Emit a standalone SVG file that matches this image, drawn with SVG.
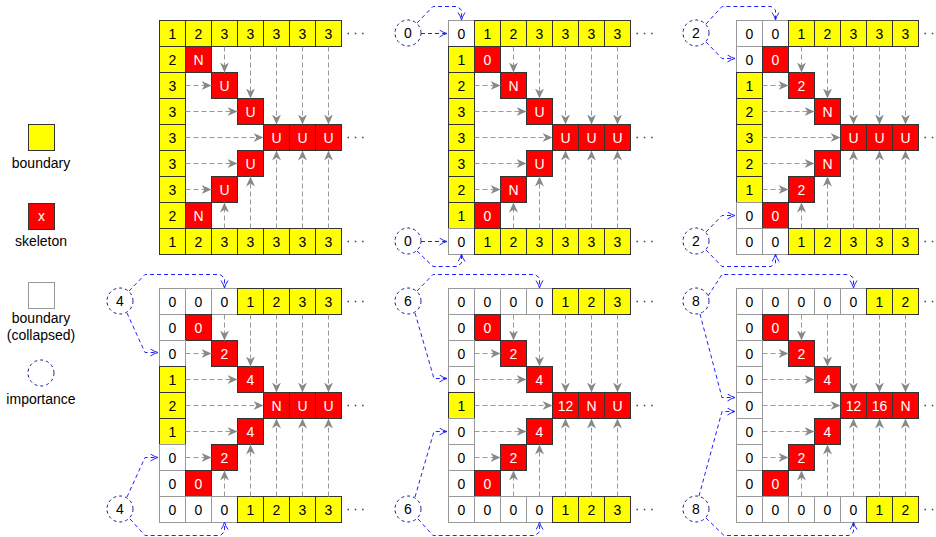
<svg xmlns="http://www.w3.org/2000/svg" width="936" height="537" viewBox="0 0 936 537">
<style>
text{font-family:"Liberation Sans",Arial,sans-serif;font-size:14px;text-anchor:middle;fill:#000}
.y{fill:#ffff00;stroke:#333;stroke-width:1}
.r{fill:#ff0000;stroke:#333;stroke-width:1}
.w{fill:#fff;stroke:#999;stroke-width:1}
.tw{fill:#fff}
.g path{fill:none;stroke:#999;stroke-width:1;stroke-dasharray:5 3;marker-end:url(#ga)}
.b{fill:none;stroke:#2222ff;stroke-width:1;stroke-dasharray:4 3;marker-end:url(#ba)}
.c{fill:#fff;stroke:#1a1a99;stroke-width:1;stroke-dasharray:3 3}
.d{fill:none;stroke:#444;stroke-width:1.5;stroke-dasharray:1.5 5.8}
</style>
<defs>
<marker id="ga" markerUnits="userSpaceOnUse" markerWidth="12" markerHeight="12" refX="10" refY="4.5" orient="auto"><path d="M0,0 L10,4.5 L0,9 L3,4.5 z" fill="#888"/></marker>
<marker id="ba" markerUnits="userSpaceOnUse" markerWidth="10" markerHeight="10" refX="8" refY="4" orient="auto"><path d="M0.5,0.5 Q4,3 8,4 Q4,5 0.5,7.5" fill="none" stroke="#2222ff" stroke-width="1"/></marker>
</defs>

<g id="legend">
<g id="leg-boundary"><rect class="y" x="28.5" y="124.5" width="26" height="26"/><text x="41" y="168">boundary</text></g>
<g id="leg-skeleton"><rect class="r" x="28.5" y="203.5" width="26" height="26"/><text class="tw" x="41.5" y="221">x</text><text x="41" y="246">skeleton</text></g>
<g id="leg-collapsed"><rect class="w" x="28.5" y="282.5" width="26" height="26"/><text x="41" y="323">boundary</text><text x="41" y="340">(collapsed)</text></g>
<g id="leg-importance"><circle class="c" cx="41" cy="373" r="13"/><text x="41" y="404">importance</text></g>
</g>

<!-- Panel 1 -->
<g id="panel1" transform="translate(159.5,20.5)">
<g id="p1-r0c0"><rect class="y" width="26" height="26"/><text x="13" y="18">1</text></g>
<g id="p1-r0c1" transform="translate(26,0)"><rect class="y" width="26" height="26"/><text x="13" y="18">2</text></g>
<g id="p1-r0c2" transform="translate(52,0)"><rect class="y" width="26" height="26"/><text x="13" y="18">3</text></g>
<g id="p1-r0c3" transform="translate(78,0)"><rect class="y" width="26" height="26"/><text x="13" y="18">3</text></g>
<g id="p1-r0c4" transform="translate(104,0)"><rect class="y" width="26" height="26"/><text x="13" y="18">3</text></g>
<g id="p1-r0c5" transform="translate(130,0)"><rect class="y" width="26" height="26"/><text x="13" y="18">3</text></g>
<g id="p1-r0c6" transform="translate(156,0)"><rect class="y" width="26" height="26"/><text x="13" y="18">3</text></g>
<g id="p1-r1c0" transform="translate(0,26)"><rect class="y" width="26" height="26"/><text x="13" y="18">2</text></g>
<g id="p1-r1c1" transform="translate(26,26)"><rect class="r" width="26" height="26"/><text class="tw" x="13" y="18">N</text></g>
<g id="p1-r2c0" transform="translate(0,52)"><rect class="y" width="26" height="26"/><text x="13" y="18">3</text></g>
<g id="p1-r2c2" transform="translate(52,52)"><rect class="r" width="26" height="26"/><text class="tw" x="13" y="18">U</text></g>
<g id="p1-r3c0" transform="translate(0,78)"><rect class="y" width="26" height="26"/><text x="13" y="18">3</text></g>
<g id="p1-r3c3" transform="translate(78,78)"><rect class="r" width="26" height="26"/><text class="tw" x="13" y="18">U</text></g>
<g id="p1-r4c0" transform="translate(0,104)"><rect class="y" width="26" height="26"/><text x="13" y="18">3</text></g>
<g id="p1-r4c4" transform="translate(104,104)"><rect class="r" width="26" height="26"/><text class="tw" x="13" y="18">U</text></g>
<g id="p1-r4c5" transform="translate(130,104)"><rect class="r" width="26" height="26"/><text class="tw" x="13" y="18">U</text></g>
<g id="p1-r4c6" transform="translate(156,104)"><rect class="r" width="26" height="26"/><text class="tw" x="13" y="18">U</text></g>
<g id="p1-r5c0" transform="translate(0,130)"><rect class="y" width="26" height="26"/><text x="13" y="18">3</text></g>
<g id="p1-r5c3" transform="translate(78,130)"><rect class="r" width="26" height="26"/><text class="tw" x="13" y="18">U</text></g>
<g id="p1-r6c0" transform="translate(0,156)"><rect class="y" width="26" height="26"/><text x="13" y="18">3</text></g>
<g id="p1-r6c2" transform="translate(52,156)"><rect class="r" width="26" height="26"/><text class="tw" x="13" y="18">U</text></g>
<g id="p1-r7c0" transform="translate(0,182)"><rect class="y" width="26" height="26"/><text x="13" y="18">2</text></g>
<g id="p1-r7c1" transform="translate(26,182)"><rect class="r" width="26" height="26"/><text class="tw" x="13" y="18">N</text></g>
<g id="p1-r8c0" transform="translate(0,208)"><rect class="y" width="26" height="26"/><text x="13" y="18">1</text></g>
<g id="p1-r8c1" transform="translate(26,208)"><rect class="y" width="26" height="26"/><text x="13" y="18">2</text></g>
<g id="p1-r8c2" transform="translate(52,208)"><rect class="y" width="26" height="26"/><text x="13" y="18">3</text></g>
<g id="p1-r8c3" transform="translate(78,208)"><rect class="y" width="26" height="26"/><text x="13" y="18">3</text></g>
<g id="p1-r8c4" transform="translate(104,208)"><rect class="y" width="26" height="26"/><text x="13" y="18">3</text></g>
<g id="p1-r8c5" transform="translate(130,208)"><rect class="y" width="26" height="26"/><text x="13" y="18">3</text></g>
<g id="p1-r8c6" transform="translate(156,208)"><rect class="y" width="26" height="26"/><text x="13" y="18">3</text></g>
<path class="d" d="M188,13H208M188,117H208M188,221H208"/>
</g>

<!-- Panel 2 -->
<g id="panel2" transform="translate(448.5,20.5)">
<g id="p2-r0c0"><rect class="w" width="26" height="26"/><text x="13" y="18">0</text></g>
<g id="p2-r0c1" transform="translate(26,0)"><rect class="y" width="26" height="26"/><text x="13" y="18">1</text></g>
<g id="p2-r0c2" transform="translate(52,0)"><rect class="y" width="26" height="26"/><text x="13" y="18">2</text></g>
<g id="p2-r0c3" transform="translate(78,0)"><rect class="y" width="26" height="26"/><text x="13" y="18">3</text></g>
<g id="p2-r0c4" transform="translate(104,0)"><rect class="y" width="26" height="26"/><text x="13" y="18">3</text></g>
<g id="p2-r0c5" transform="translate(130,0)"><rect class="y" width="26" height="26"/><text x="13" y="18">3</text></g>
<g id="p2-r0c6" transform="translate(156,0)"><rect class="y" width="26" height="26"/><text x="13" y="18">3</text></g>
<g id="p2-r1c0" transform="translate(0,26)"><rect class="y" width="26" height="26"/><text x="13" y="18">1</text></g>
<g id="p2-r1c1" transform="translate(26,26)"><rect class="r" width="26" height="26"/><text class="tw" x="13" y="18">0</text></g>
<g id="p2-r2c0" transform="translate(0,52)"><rect class="y" width="26" height="26"/><text x="13" y="18">2</text></g>
<g id="p2-r2c2" transform="translate(52,52)"><rect class="r" width="26" height="26"/><text class="tw" x="13" y="18">N</text></g>
<g id="p2-r3c0" transform="translate(0,78)"><rect class="y" width="26" height="26"/><text x="13" y="18">3</text></g>
<g id="p2-r3c3" transform="translate(78,78)"><rect class="r" width="26" height="26"/><text class="tw" x="13" y="18">U</text></g>
<g id="p2-r4c0" transform="translate(0,104)"><rect class="y" width="26" height="26"/><text x="13" y="18">3</text></g>
<g id="p2-r4c4" transform="translate(104,104)"><rect class="r" width="26" height="26"/><text class="tw" x="13" y="18">U</text></g>
<g id="p2-r4c5" transform="translate(130,104)"><rect class="r" width="26" height="26"/><text class="tw" x="13" y="18">U</text></g>
<g id="p2-r4c6" transform="translate(156,104)"><rect class="r" width="26" height="26"/><text class="tw" x="13" y="18">U</text></g>
<g id="p2-r5c0" transform="translate(0,130)"><rect class="y" width="26" height="26"/><text x="13" y="18">3</text></g>
<g id="p2-r5c3" transform="translate(78,130)"><rect class="r" width="26" height="26"/><text class="tw" x="13" y="18">U</text></g>
<g id="p2-r6c0" transform="translate(0,156)"><rect class="y" width="26" height="26"/><text x="13" y="18">2</text></g>
<g id="p2-r6c2" transform="translate(52,156)"><rect class="r" width="26" height="26"/><text class="tw" x="13" y="18">N</text></g>
<g id="p2-r7c0" transform="translate(0,182)"><rect class="y" width="26" height="26"/><text x="13" y="18">1</text></g>
<g id="p2-r7c1" transform="translate(26,182)"><rect class="r" width="26" height="26"/><text class="tw" x="13" y="18">0</text></g>
<g id="p2-r8c0" transform="translate(0,208)"><rect class="w" width="26" height="26"/><text x="13" y="18">0</text></g>
<g id="p2-r8c1" transform="translate(26,208)"><rect class="y" width="26" height="26"/><text x="13" y="18">1</text></g>
<g id="p2-r8c2" transform="translate(52,208)"><rect class="y" width="26" height="26"/><text x="13" y="18">2</text></g>
<g id="p2-r8c3" transform="translate(78,208)"><rect class="y" width="26" height="26"/><text x="13" y="18">3</text></g>
<g id="p2-r8c4" transform="translate(104,208)"><rect class="y" width="26" height="26"/><text x="13" y="18">3</text></g>
<g id="p2-r8c5" transform="translate(130,208)"><rect class="y" width="26" height="26"/><text x="13" y="18">3</text></g>
<g id="p2-r8c6" transform="translate(156,208)"><rect class="y" width="26" height="26"/><text x="13" y="18">3</text></g>
<path class="d" d="M188,13H208M188,117H208M188,221H208"/>
</g>

<!-- Panel 3 -->
<g id="panel3" transform="translate(736.5,20.5)">
<g id="p3-r0c0"><rect class="w" width="26" height="26"/><text x="13" y="18">0</text></g>
<g id="p3-r0c1" transform="translate(26,0)"><rect class="w" width="26" height="26"/><text x="13" y="18">0</text></g>
<g id="p3-r0c2" transform="translate(52,0)"><rect class="y" width="26" height="26"/><text x="13" y="18">1</text></g>
<g id="p3-r0c3" transform="translate(78,0)"><rect class="y" width="26" height="26"/><text x="13" y="18">2</text></g>
<g id="p3-r0c4" transform="translate(104,0)"><rect class="y" width="26" height="26"/><text x="13" y="18">3</text></g>
<g id="p3-r0c5" transform="translate(130,0)"><rect class="y" width="26" height="26"/><text x="13" y="18">3</text></g>
<g id="p3-r0c6" transform="translate(156,0)"><rect class="y" width="26" height="26"/><text x="13" y="18">3</text></g>
<g id="p3-r1c0" transform="translate(0,26)"><rect class="w" width="26" height="26"/><text x="13" y="18">0</text></g>
<g id="p3-r1c1" transform="translate(26,26)"><rect class="r" width="26" height="26"/><text class="tw" x="13" y="18">0</text></g>
<g id="p3-r2c0" transform="translate(0,52)"><rect class="y" width="26" height="26"/><text x="13" y="18">1</text></g>
<g id="p3-r2c2" transform="translate(52,52)"><rect class="r" width="26" height="26"/><text class="tw" x="13" y="18">2</text></g>
<g id="p3-r3c0" transform="translate(0,78)"><rect class="y" width="26" height="26"/><text x="13" y="18">2</text></g>
<g id="p3-r3c3" transform="translate(78,78)"><rect class="r" width="26" height="26"/><text class="tw" x="13" y="18">N</text></g>
<g id="p3-r4c0" transform="translate(0,104)"><rect class="y" width="26" height="26"/><text x="13" y="18">3</text></g>
<g id="p3-r4c4" transform="translate(104,104)"><rect class="r" width="26" height="26"/><text class="tw" x="13" y="18">U</text></g>
<g id="p3-r4c5" transform="translate(130,104)"><rect class="r" width="26" height="26"/><text class="tw" x="13" y="18">U</text></g>
<g id="p3-r4c6" transform="translate(156,104)"><rect class="r" width="26" height="26"/><text class="tw" x="13" y="18">U</text></g>
<g id="p3-r5c0" transform="translate(0,130)"><rect class="y" width="26" height="26"/><text x="13" y="18">2</text></g>
<g id="p3-r5c3" transform="translate(78,130)"><rect class="r" width="26" height="26"/><text class="tw" x="13" y="18">N</text></g>
<g id="p3-r6c0" transform="translate(0,156)"><rect class="y" width="26" height="26"/><text x="13" y="18">1</text></g>
<g id="p3-r6c2" transform="translate(52,156)"><rect class="r" width="26" height="26"/><text class="tw" x="13" y="18">2</text></g>
<g id="p3-r7c0" transform="translate(0,182)"><rect class="w" width="26" height="26"/><text x="13" y="18">0</text></g>
<g id="p3-r7c1" transform="translate(26,182)"><rect class="r" width="26" height="26"/><text class="tw" x="13" y="18">0</text></g>
<g id="p3-r8c0" transform="translate(0,208)"><rect class="w" width="26" height="26"/><text x="13" y="18">0</text></g>
<g id="p3-r8c1" transform="translate(26,208)"><rect class="w" width="26" height="26"/><text x="13" y="18">0</text></g>
<g id="p3-r8c2" transform="translate(52,208)"><rect class="y" width="26" height="26"/><text x="13" y="18">1</text></g>
<g id="p3-r8c3" transform="translate(78,208)"><rect class="y" width="26" height="26"/><text x="13" y="18">2</text></g>
<g id="p3-r8c4" transform="translate(104,208)"><rect class="y" width="26" height="26"/><text x="13" y="18">3</text></g>
<g id="p3-r8c5" transform="translate(130,208)"><rect class="y" width="26" height="26"/><text x="13" y="18">3</text></g>
<g id="p3-r8c6" transform="translate(156,208)"><rect class="y" width="26" height="26"/><text x="13" y="18">3</text></g>
<path class="d" d="M188,13H208M188,117H208M188,221H208"/>
</g>

<!-- Panel 4 -->
<g id="panel4" transform="translate(159.5,288.5)">
<g id="p4-r0c0"><rect class="w" width="26" height="26"/><text x="13" y="18">0</text></g>
<g id="p4-r0c1" transform="translate(26,0)"><rect class="w" width="26" height="26"/><text x="13" y="18">0</text></g>
<g id="p4-r0c2" transform="translate(52,0)"><rect class="w" width="26" height="26"/><text x="13" y="18">0</text></g>
<g id="p4-r0c3" transform="translate(78,0)"><rect class="y" width="26" height="26"/><text x="13" y="18">1</text></g>
<g id="p4-r0c4" transform="translate(104,0)"><rect class="y" width="26" height="26"/><text x="13" y="18">2</text></g>
<g id="p4-r0c5" transform="translate(130,0)"><rect class="y" width="26" height="26"/><text x="13" y="18">3</text></g>
<g id="p4-r0c6" transform="translate(156,0)"><rect class="y" width="26" height="26"/><text x="13" y="18">3</text></g>
<g id="p4-r1c0" transform="translate(0,26)"><rect class="w" width="26" height="26"/><text x="13" y="18">0</text></g>
<g id="p4-r1c1" transform="translate(26,26)"><rect class="r" width="26" height="26"/><text class="tw" x="13" y="18">0</text></g>
<g id="p4-r2c0" transform="translate(0,52)"><rect class="w" width="26" height="26"/><text x="13" y="18">0</text></g>
<g id="p4-r2c2" transform="translate(52,52)"><rect class="r" width="26" height="26"/><text class="tw" x="13" y="18">2</text></g>
<g id="p4-r3c0" transform="translate(0,78)"><rect class="y" width="26" height="26"/><text x="13" y="18">1</text></g>
<g id="p4-r3c3" transform="translate(78,78)"><rect class="r" width="26" height="26"/><text class="tw" x="13" y="18">4</text></g>
<g id="p4-r4c0" transform="translate(0,104)"><rect class="y" width="26" height="26"/><text x="13" y="18">2</text></g>
<g id="p4-r4c4" transform="translate(104,104)"><rect class="r" width="26" height="26"/><text class="tw" x="13" y="18">N</text></g>
<g id="p4-r4c5" transform="translate(130,104)"><rect class="r" width="26" height="26"/><text class="tw" x="13" y="18">U</text></g>
<g id="p4-r4c6" transform="translate(156,104)"><rect class="r" width="26" height="26"/><text class="tw" x="13" y="18">U</text></g>
<g id="p4-r5c0" transform="translate(0,130)"><rect class="y" width="26" height="26"/><text x="13" y="18">1</text></g>
<g id="p4-r5c3" transform="translate(78,130)"><rect class="r" width="26" height="26"/><text class="tw" x="13" y="18">4</text></g>
<g id="p4-r6c0" transform="translate(0,156)"><rect class="w" width="26" height="26"/><text x="13" y="18">0</text></g>
<g id="p4-r6c2" transform="translate(52,156)"><rect class="r" width="26" height="26"/><text class="tw" x="13" y="18">2</text></g>
<g id="p4-r7c0" transform="translate(0,182)"><rect class="w" width="26" height="26"/><text x="13" y="18">0</text></g>
<g id="p4-r7c1" transform="translate(26,182)"><rect class="r" width="26" height="26"/><text class="tw" x="13" y="18">0</text></g>
<g id="p4-r8c0" transform="translate(0,208)"><rect class="w" width="26" height="26"/><text x="13" y="18">0</text></g>
<g id="p4-r8c1" transform="translate(26,208)"><rect class="w" width="26" height="26"/><text x="13" y="18">0</text></g>
<g id="p4-r8c2" transform="translate(52,208)"><rect class="w" width="26" height="26"/><text x="13" y="18">0</text></g>
<g id="p4-r8c3" transform="translate(78,208)"><rect class="y" width="26" height="26"/><text x="13" y="18">1</text></g>
<g id="p4-r8c4" transform="translate(104,208)"><rect class="y" width="26" height="26"/><text x="13" y="18">2</text></g>
<g id="p4-r8c5" transform="translate(130,208)"><rect class="y" width="26" height="26"/><text x="13" y="18">3</text></g>
<g id="p4-r8c6" transform="translate(156,208)"><rect class="y" width="26" height="26"/><text x="13" y="18">3</text></g>
<path class="d" d="M188,13H208M188,117H208M188,221H208"/>
</g>

<!-- Panel 5 -->
<g id="panel5" transform="translate(448.5,288.5)">
<g id="p5-r0c0"><rect class="w" width="26" height="26"/><text x="13" y="18">0</text></g>
<g id="p5-r0c1" transform="translate(26,0)"><rect class="w" width="26" height="26"/><text x="13" y="18">0</text></g>
<g id="p5-r0c2" transform="translate(52,0)"><rect class="w" width="26" height="26"/><text x="13" y="18">0</text></g>
<g id="p5-r0c3" transform="translate(78,0)"><rect class="w" width="26" height="26"/><text x="13" y="18">0</text></g>
<g id="p5-r0c4" transform="translate(104,0)"><rect class="y" width="26" height="26"/><text x="13" y="18">1</text></g>
<g id="p5-r0c5" transform="translate(130,0)"><rect class="y" width="26" height="26"/><text x="13" y="18">2</text></g>
<g id="p5-r0c6" transform="translate(156,0)"><rect class="y" width="26" height="26"/><text x="13" y="18">3</text></g>
<g id="p5-r1c0" transform="translate(0,26)"><rect class="w" width="26" height="26"/><text x="13" y="18">0</text></g>
<g id="p5-r1c1" transform="translate(26,26)"><rect class="r" width="26" height="26"/><text class="tw" x="13" y="18">0</text></g>
<g id="p5-r2c0" transform="translate(0,52)"><rect class="w" width="26" height="26"/><text x="13" y="18">0</text></g>
<g id="p5-r2c2" transform="translate(52,52)"><rect class="r" width="26" height="26"/><text class="tw" x="13" y="18">2</text></g>
<g id="p5-r3c0" transform="translate(0,78)"><rect class="w" width="26" height="26"/><text x="13" y="18">0</text></g>
<g id="p5-r3c3" transform="translate(78,78)"><rect class="r" width="26" height="26"/><text class="tw" x="13" y="18">4</text></g>
<g id="p5-r4c0" transform="translate(0,104)"><rect class="y" width="26" height="26"/><text x="13" y="18">1</text></g>
<g id="p5-r4c4" transform="translate(104,104)"><rect class="r" width="26" height="26"/><text class="tw" x="13" y="18">12</text></g>
<g id="p5-r4c5" transform="translate(130,104)"><rect class="r" width="26" height="26"/><text class="tw" x="13" y="18">N</text></g>
<g id="p5-r4c6" transform="translate(156,104)"><rect class="r" width="26" height="26"/><text class="tw" x="13" y="18">U</text></g>
<g id="p5-r5c0" transform="translate(0,130)"><rect class="w" width="26" height="26"/><text x="13" y="18">0</text></g>
<g id="p5-r5c3" transform="translate(78,130)"><rect class="r" width="26" height="26"/><text class="tw" x="13" y="18">4</text></g>
<g id="p5-r6c0" transform="translate(0,156)"><rect class="w" width="26" height="26"/><text x="13" y="18">0</text></g>
<g id="p5-r6c2" transform="translate(52,156)"><rect class="r" width="26" height="26"/><text class="tw" x="13" y="18">2</text></g>
<g id="p5-r7c0" transform="translate(0,182)"><rect class="w" width="26" height="26"/><text x="13" y="18">0</text></g>
<g id="p5-r7c1" transform="translate(26,182)"><rect class="r" width="26" height="26"/><text class="tw" x="13" y="18">0</text></g>
<g id="p5-r8c0" transform="translate(0,208)"><rect class="w" width="26" height="26"/><text x="13" y="18">0</text></g>
<g id="p5-r8c1" transform="translate(26,208)"><rect class="w" width="26" height="26"/><text x="13" y="18">0</text></g>
<g id="p5-r8c2" transform="translate(52,208)"><rect class="w" width="26" height="26"/><text x="13" y="18">0</text></g>
<g id="p5-r8c3" transform="translate(78,208)"><rect class="w" width="26" height="26"/><text x="13" y="18">0</text></g>
<g id="p5-r8c4" transform="translate(104,208)"><rect class="y" width="26" height="26"/><text x="13" y="18">1</text></g>
<g id="p5-r8c5" transform="translate(130,208)"><rect class="y" width="26" height="26"/><text x="13" y="18">2</text></g>
<g id="p5-r8c6" transform="translate(156,208)"><rect class="y" width="26" height="26"/><text x="13" y="18">3</text></g>
<path class="d" d="M188,13H208M188,117H208M188,221H208"/>
</g>

<!-- Panel 6 -->
<g id="panel6" transform="translate(736.5,288.5)">
<g id="p6-r0c0"><rect class="w" width="26" height="26"/><text x="13" y="18">0</text></g>
<g id="p6-r0c1" transform="translate(26,0)"><rect class="w" width="26" height="26"/><text x="13" y="18">0</text></g>
<g id="p6-r0c2" transform="translate(52,0)"><rect class="w" width="26" height="26"/><text x="13" y="18">0</text></g>
<g id="p6-r0c3" transform="translate(78,0)"><rect class="w" width="26" height="26"/><text x="13" y="18">0</text></g>
<g id="p6-r0c4" transform="translate(104,0)"><rect class="w" width="26" height="26"/><text x="13" y="18">0</text></g>
<g id="p6-r0c5" transform="translate(130,0)"><rect class="y" width="26" height="26"/><text x="13" y="18">1</text></g>
<g id="p6-r0c6" transform="translate(156,0)"><rect class="y" width="26" height="26"/><text x="13" y="18">2</text></g>
<g id="p6-r1c0" transform="translate(0,26)"><rect class="w" width="26" height="26"/><text x="13" y="18">0</text></g>
<g id="p6-r1c1" transform="translate(26,26)"><rect class="r" width="26" height="26"/><text class="tw" x="13" y="18">0</text></g>
<g id="p6-r2c0" transform="translate(0,52)"><rect class="w" width="26" height="26"/><text x="13" y="18">0</text></g>
<g id="p6-r2c2" transform="translate(52,52)"><rect class="r" width="26" height="26"/><text class="tw" x="13" y="18">2</text></g>
<g id="p6-r3c0" transform="translate(0,78)"><rect class="w" width="26" height="26"/><text x="13" y="18">0</text></g>
<g id="p6-r3c3" transform="translate(78,78)"><rect class="r" width="26" height="26"/><text class="tw" x="13" y="18">4</text></g>
<g id="p6-r4c0" transform="translate(0,104)"><rect class="w" width="26" height="26"/><text x="13" y="18">0</text></g>
<g id="p6-r4c4" transform="translate(104,104)"><rect class="r" width="26" height="26"/><text class="tw" x="13" y="18">12</text></g>
<g id="p6-r4c5" transform="translate(130,104)"><rect class="r" width="26" height="26"/><text class="tw" x="13" y="18">16</text></g>
<g id="p6-r4c6" transform="translate(156,104)"><rect class="r" width="26" height="26"/><text class="tw" x="13" y="18">N</text></g>
<g id="p6-r5c0" transform="translate(0,130)"><rect class="w" width="26" height="26"/><text x="13" y="18">0</text></g>
<g id="p6-r5c3" transform="translate(78,130)"><rect class="r" width="26" height="26"/><text class="tw" x="13" y="18">4</text></g>
<g id="p6-r6c0" transform="translate(0,156)"><rect class="w" width="26" height="26"/><text x="13" y="18">0</text></g>
<g id="p6-r6c2" transform="translate(52,156)"><rect class="r" width="26" height="26"/><text class="tw" x="13" y="18">2</text></g>
<g id="p6-r7c0" transform="translate(0,182)"><rect class="w" width="26" height="26"/><text x="13" y="18">0</text></g>
<g id="p6-r7c1" transform="translate(26,182)"><rect class="r" width="26" height="26"/><text class="tw" x="13" y="18">0</text></g>
<g id="p6-r8c0" transform="translate(0,208)"><rect class="w" width="26" height="26"/><text x="13" y="18">0</text></g>
<g id="p6-r8c1" transform="translate(26,208)"><rect class="w" width="26" height="26"/><text x="13" y="18">0</text></g>
<g id="p6-r8c2" transform="translate(52,208)"><rect class="w" width="26" height="26"/><text x="13" y="18">0</text></g>
<g id="p6-r8c3" transform="translate(78,208)"><rect class="w" width="26" height="26"/><text x="13" y="18">0</text></g>
<g id="p6-r8c4" transform="translate(104,208)"><rect class="w" width="26" height="26"/><text x="13" y="18">0</text></g>
<g id="p6-r8c5" transform="translate(130,208)"><rect class="y" width="26" height="26"/><text x="13" y="18">1</text></g>
<g id="p6-r8c6" transform="translate(156,208)"><rect class="y" width="26" height="26"/><text x="13" y="18">2</text></g>
<path class="d" d="M188,13H208M188,117H208M188,221H208"/>
</g>

<!-- importance nodes -->
<g id="imp2-top"><circle class="c" cx="408" cy="33" r="13"/><text x="408" y="38">0</text></g>
<g id="imp2-bot"><circle class="c" cx="408" cy="241" r="13"/><text x="408" y="246">0</text></g>
<g id="imp3-top"><circle class="c" cx="696" cy="33" r="13"/><text x="696" y="38">2</text></g>
<g id="imp3-bot"><circle class="c" cx="696" cy="241" r="13"/><text x="696" y="246">2</text></g>
<g id="imp4-top"><circle class="c" cx="120" cy="301" r="13"/><text x="120" y="306">4</text></g>
<g id="imp4-bot"><circle class="c" cx="120" cy="509" r="13"/><text x="120" y="514">4</text></g>
<g id="imp5-top"><circle class="c" cx="408" cy="301" r="13"/><text x="408" y="306">6</text></g>
<g id="imp5-bot"><circle class="c" cx="408" cy="509" r="13"/><text x="408" y="514">6</text></g>
<g id="imp6-top"><circle class="c" cx="696" cy="301" r="13"/><text x="696" y="306">8</text></g>
<g id="imp6-bot"><circle class="c" cx="696" cy="509" r="13"/><text x="696" y="514">8</text></g>

<g id="connectors">
<g id="gray1" class="g" transform="translate(159.5,20.5)">
<path d="M65,26V52"/><path d="M91,26V78"/><path d="M117,26V104"/><path d="M143,26V104"/><path d="M169,26V104"/>
<path d="M65,208V182"/><path d="M91,208V156"/><path d="M117,208V130"/><path d="M143,208V130"/><path d="M169,208V130"/>
<path d="M26,65H52"/><path d="M26,91H78"/><path d="M26,117H104"/><path d="M26,143H78"/><path d="M26,169H52"/>
</g>
<g id="gray2" class="g" transform="translate(448.5,20.5)">
<path d="M65,26V52"/><path d="M91,26V78"/><path d="M117,26V104"/><path d="M143,26V104"/><path d="M169,26V104"/>
<path d="M65,208V182"/><path d="M91,208V156"/><path d="M117,208V130"/><path d="M143,208V130"/><path d="M169,208V130"/>
<path d="M26,65H52"/><path d="M26,91H78"/><path d="M26,117H104"/><path d="M26,143H78"/><path d="M26,169H52"/>
</g>
<g id="gray3" class="g" transform="translate(736.5,20.5)">
<path d="M65,26V52"/><path d="M91,26V78"/><path d="M117,26V104"/><path d="M143,26V104"/><path d="M169,26V104"/>
<path d="M65,208V182"/><path d="M91,208V156"/><path d="M117,208V130"/><path d="M143,208V130"/><path d="M169,208V130"/>
<path d="M26,65H52"/><path d="M26,91H78"/><path d="M26,117H104"/><path d="M26,143H78"/><path d="M26,169H52"/>
</g>
<g id="gray4" class="g" transform="translate(159.5,288.5)">
<path d="M65,26V52"/><path d="M91,26V78"/><path d="M117,26V104"/><path d="M143,26V104"/><path d="M169,26V104"/>
<path d="M65,208V182"/><path d="M91,208V156"/><path d="M117,208V130"/><path d="M143,208V130"/><path d="M169,208V130"/>
<path d="M26,65H52"/><path d="M26,91H78"/><path d="M26,117H104"/><path d="M26,143H78"/><path d="M26,169H52"/>
</g>
<g id="gray5" class="g" transform="translate(448.5,288.5)">
<path d="M65,26V52"/><path d="M91,26V78"/><path d="M117,26V104"/><path d="M143,26V104"/><path d="M169,26V104"/>
<path d="M65,208V182"/><path d="M91,208V156"/><path d="M117,208V130"/><path d="M143,208V130"/><path d="M169,208V130"/>
<path d="M26,65H52"/><path d="M26,91H78"/><path d="M26,117H104"/><path d="M26,143H78"/><path d="M26,169H52"/>
</g>
<g id="gray6" class="g" transform="translate(736.5,288.5)">
<path d="M65,26V52"/><path d="M91,26V78"/><path d="M117,26V104"/><path d="M143,26V104"/><path d="M169,26V104"/>
<path d="M65,208V182"/><path d="M91,208V156"/><path d="M117,208V130"/><path d="M143,208V130"/><path d="M169,208V130"/>
<path d="M26,65H52"/><path d="M26,91H78"/><path d="M26,117H104"/><path d="M26,143H78"/><path d="M26,169H52"/>
</g>
<g id="blue">
<path class="b" d="M421,33.5H447"/>
<path class="b" d="M417,23 L433,6.5 H457 L461.5,10 V20"/>
<path class="b" d="M421,241.5H447"/>
<path class="b" d="M417,251 L433,266.5 H457 L461.5,263 V254"/>
<path class="b" d="M706,24 L722,6.5 H771 L775.5,10 V20"/>
<path class="b" d="M706,42 L722,58.5 H735"/>
<path class="b" d="M706,232 L722,215.5 H735"/>
<path class="b" d="M706,250 L722,266.5 H771 L775.5,263 V254"/>
<path class="b" d="M129,291 L145,274.5 H220 L224.5,278 V288"/>
<path class="b" d="M127,313 L145,352.5 H158"/>
<path class="b" d="M127,497 L145,457.5 H158"/>
<path class="b" d="M130,519 L145,535.5 H220 L224.5,532 V522"/>
<path class="b" d="M417,291 L433,274.5 H535 L539.5,278 V288"/>
<path class="b" d="M415,313 L434,378.5 H447"/>
<path class="b" d="M415,497 L434,431.5 H447"/>
<path class="b" d="M418,519 L433,535.5 H535 L539.5,532 V522"/>
<path class="b" d="M708,296 L722,274.5 H849 L853.5,278 V288"/>
<path class="b" d="M700,314 L722,397.5 H735"/>
<path class="b" d="M699,496 L722,411.5 H735"/>
<path class="b" d="M706,518 L724,535.5 H849 L853.5,532 V522"/>
</g>
</g>
</svg>
